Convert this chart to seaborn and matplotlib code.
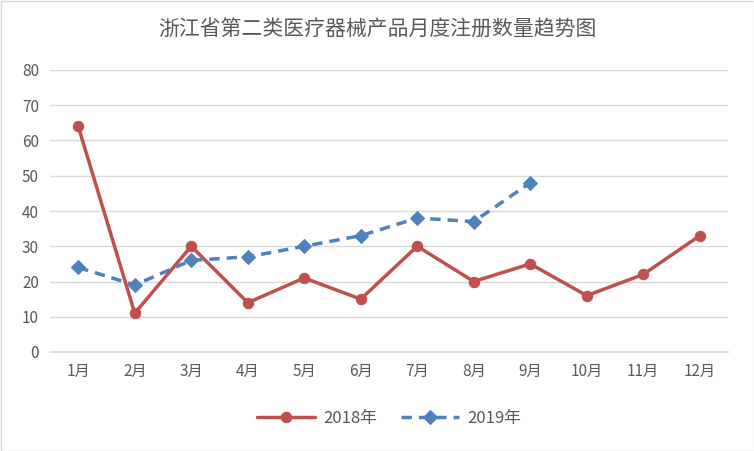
import matplotlib
matplotlib.use("Agg")
import matplotlib.pyplot as plt
import seaborn as sns
import pandas as pd

months = ["1月", "2月", "3月", "4月", "5月", "6月", "7月", "8月", "9月", "10月", "11月", "12月"]
values_2018 = [64, 11, 30, 14, 21, 15, 30, 20, 25, 16, 22, 33]
values_2019 = [24, 19, 26, 27, 30, 33, 38, 37, 48]
yticks = [0, 10, 20, 30, 40, 50, 60, 70, 80]
title = "浙江省第二类医疗器械产品月度注册数量趋势图"

sns.set_theme(style="white")
plt.rcParams['font.family'] = ['Noto Sans CJK SC', 'DejaVu Sans']

df18 = pd.DataFrame({"idx": range(len(values_2018)), "v": values_2018})
df19 = pd.DataFrame({"idx": range(len(values_2019)), "v": values_2019})

fig = plt.figure(figsize=(7.54, 4.51), dpi=100)
ax = fig.add_axes([50/754, 99/451, 678/754, 282/451])

red = "#C0504D"
blue = "#4F81BD"
sns.lineplot(data=df18, x="idx", y="v", ax=ax, color=red, linewidth=2.5,
             marker="o", markersize=7.5, markeredgecolor=red, label="2018年")
sns.lineplot(data=df19, x="idx", y="v", ax=ax, color=blue, linewidth=2.5,
             marker="D", markersize=7.5, markeredgecolor=blue, label="2019年",
             linestyle=(0, (3, 2)))

ax.set_xlim(-0.5, 11.5)
ax.set_ylim(0, 80)
ax.set_yticks(yticks)
ax.set_yticklabels([str(t) for t in yticks], color="#595959", fontsize=11)
ax.set_xticks(range(len(months)))
ax.set_xticklabels(months, color="#595959", fontsize=11)
ax.yaxis.grid(True, color="#D9D9D9", linewidth=1)
ax.set_axisbelow(True)
for s in ["top", "right", "left"]:
    ax.spines[s].set_visible(False)
ax.spines["bottom"].set_color("#D9D9D9")
ax.tick_params(axis="both", length=0, pad=8)
ax.set_xlabel("")
ax.set_ylabel("")

fig.text(0.5, 1 - 30/451, title, ha="center", va="center", fontsize=15, color="#595959")

ax.legend(loc="center", bbox_to_anchor=(0.5, (451 - 418 - 99)/282), ncol=2, frameon=False,
          fontsize=12, labelcolor="#595959", handlelength=3.5, columnspacing=1.4,
          handletextpad=0.5)

fig.patches.append(plt.Rectangle((0.5/754, 0.5/451), 753/754, 450/451, transform=fig.transFigure,
                                 fill=False, edgecolor="#D9D9D9", linewidth=1))
fig.savefig("out.png", dpi=100, facecolor="white")
